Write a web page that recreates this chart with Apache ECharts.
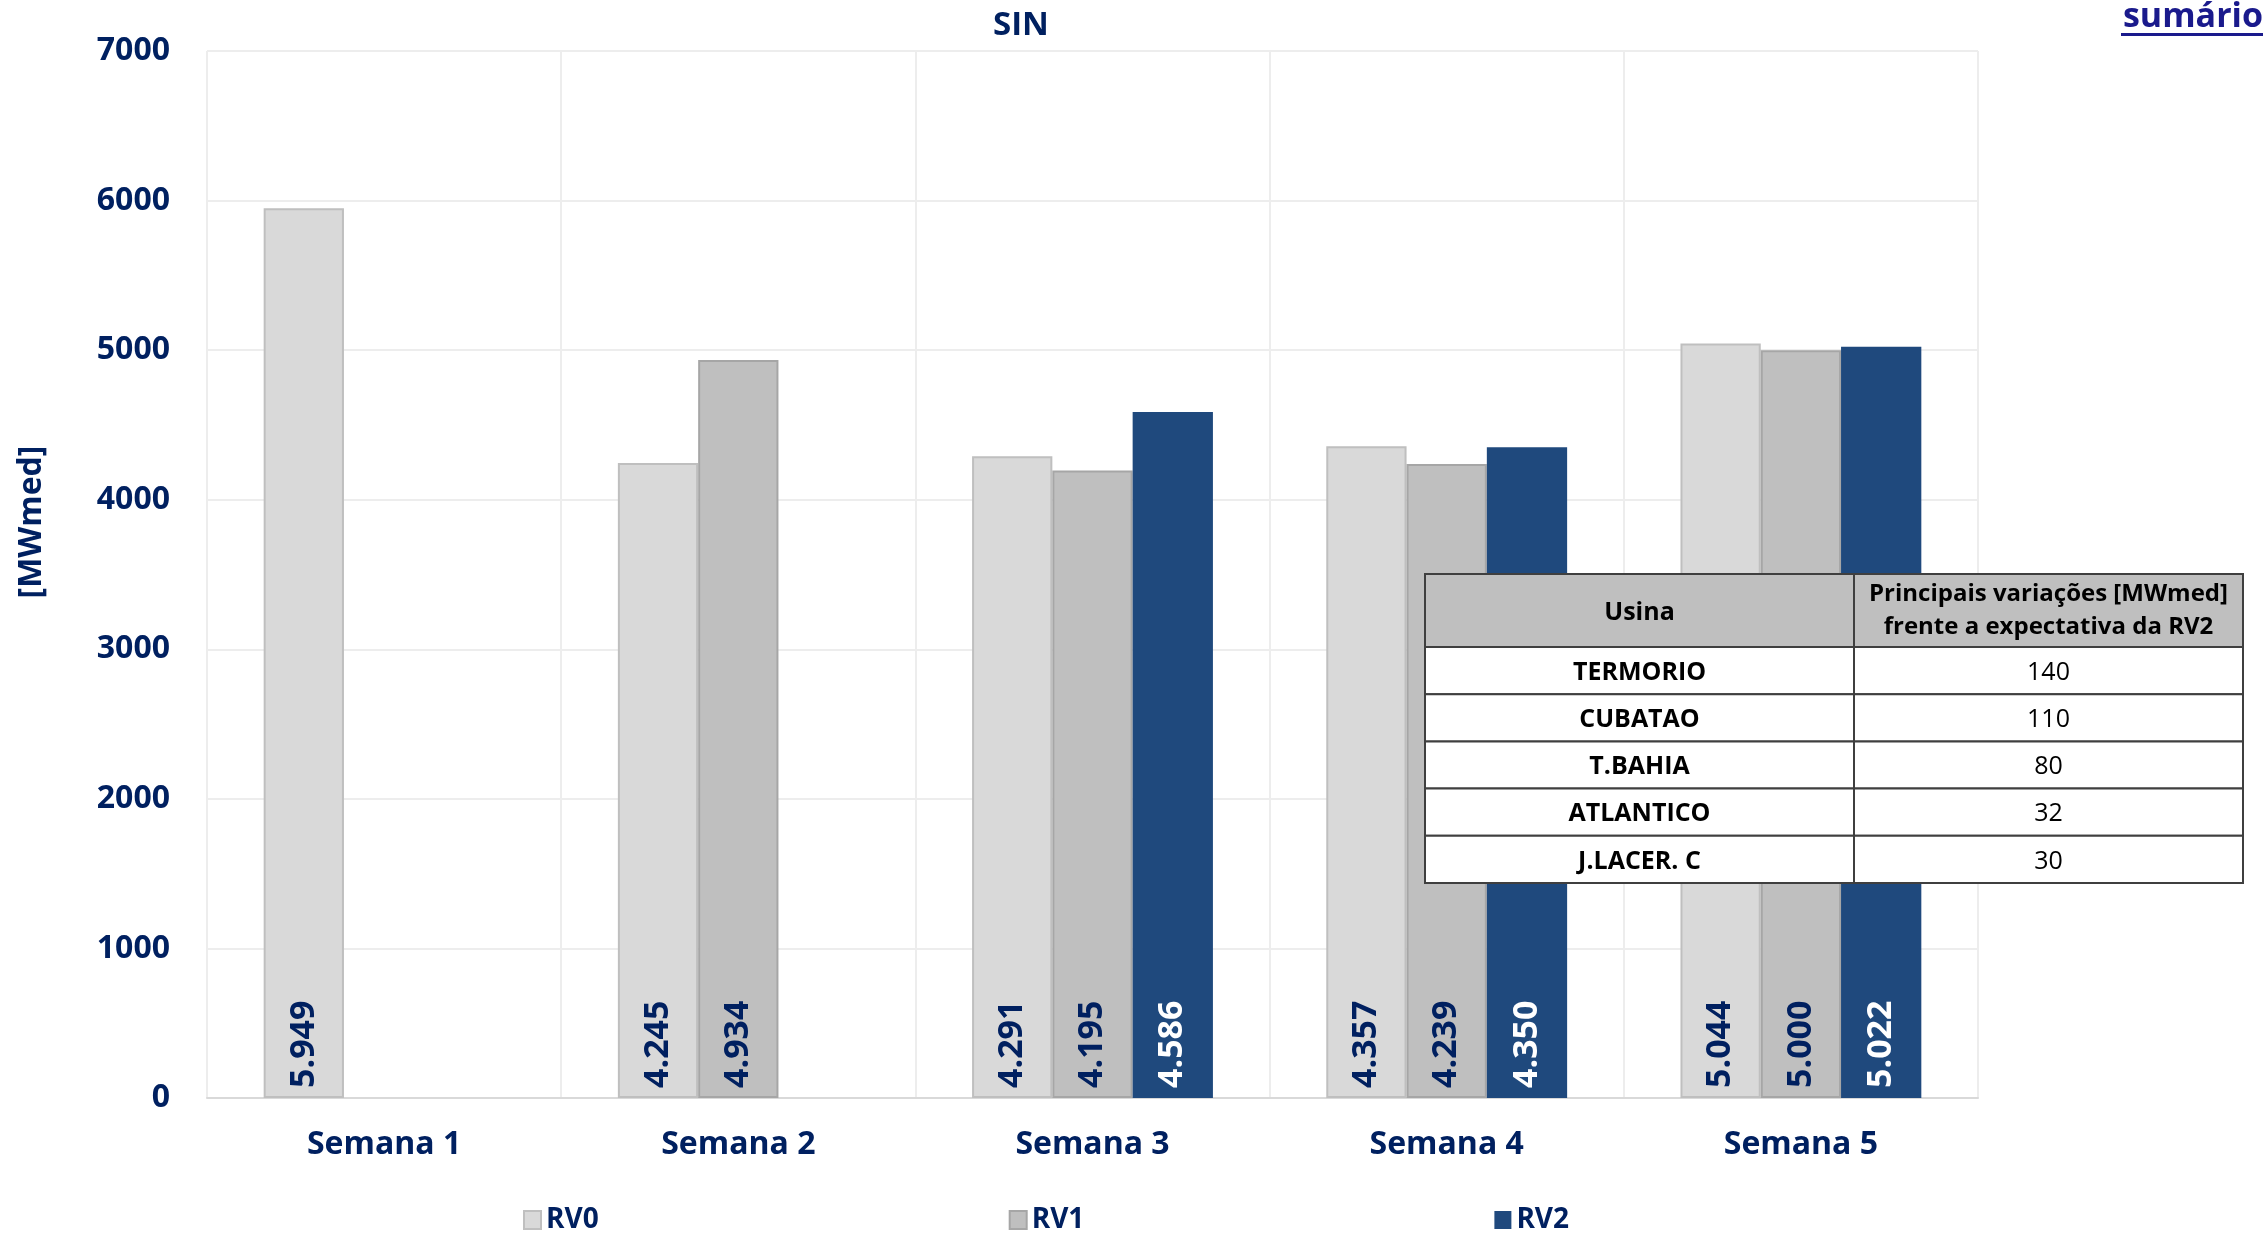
<!DOCTYPE html>
<html>
<head>
<meta charset="utf-8">
<script src="https://cdn.jsdelivr.net/npm/echarts@6/dist/echarts.min.js"></script>
<style>
html,body{margin:0;padding:0;background:#fff;}
#chart{width:2266px;height:1233px;}
</style>
</head>
<body>
<div id="chart"></div>
<script>
// ---- data ----
const categories = ['Semana 1', 'Semana 2', 'Semana 3', 'Semana 4', 'Semana 5'];
const seriesNames = ['RV0', 'RV1', 'RV2'];
const rv0 = [5949, 4245, 4291, 4357, 5044];
const rv1 = [null, 4934, 4195, 4239, 5000];
const rv2 = [null, null, 4586, 4350, 5022];
const yMin = 0, yMax = 7000, yStep = 1000;
const chartTitle = 'SIN';
const yAxisName = '[MWmed]';
const linkText = 'sumário';
const tableHeader = ['Usina', 'Principais variações [MWmed]\nfrente a expectativa da RV2'];
const usinas = ['TERMORIO', 'CUBATAO', 'T.BAHIA', 'ATLANTICO', 'J.LACER. C'];
const variacoes = [140, 110, 80, 32, 30];

// ---- styles ----
const NAVY = '#002060';
const FONT = '"Open Sans", "Noto Sans", sans-serif';
const fmt = v => {
  if (v == null) return '';
  const t = Math.floor(v / 1000), r = v % 1000;
  return t + '.' + String(r).padStart(3, '0');
};

// ---- table graphic ----
const T = { x: 1425, y: 574, w1: 429, w2: 389, hh: 73 };
T.rh = (883 - (T.y + T.hh)) / usinas.length;
const tbl = [];
const border = '#3F3F3F';
tbl.push({ type: 'rect', z: 100, shape: { x: T.x, y: T.y, width: T.w1, height: T.hh }, style: { fill: '#BFBFBF', stroke: border, lineWidth: 2 } });
tbl.push({ type: 'rect', z: 100, shape: { x: T.x + T.w1, y: T.y, width: T.w2, height: T.hh }, style: { fill: '#BFBFBF', stroke: border, lineWidth: 2 } });
tbl.push({ type: 'text', z: 101, x: T.x + T.w1 / 2, y: T.y + T.hh / 2 + 2, style: { text: tableHeader[0], font: 'bold 25px ' + FONT, fill: '#000', align: 'center', verticalAlign: 'middle' } });
tbl.push({ type: 'text', z: 101, x: T.x + T.w1 + T.w2 / 2, y: T.y + T.hh / 2, style: { text: tableHeader[1], font: 'bold 24px ' + FONT, fill: '#000', align: 'center', verticalAlign: 'middle', lineHeight: 33 } });
usinas.forEach((u, i) => {
  const y0 = T.y + T.hh + i * T.rh;
  tbl.push({ type: 'rect', z: 100, shape: { x: T.x, y: y0, width: T.w1, height: T.rh }, style: { fill: '#fff', stroke: border, lineWidth: 2 } });
  tbl.push({ type: 'rect', z: 100, shape: { x: T.x + T.w1, y: y0, width: T.w2, height: T.rh }, style: { fill: '#fff', stroke: border, lineWidth: 2 } });
  tbl.push({ type: 'text', z: 101, x: T.x + T.w1 / 2, y: y0 + T.rh / 2 + 2, style: { text: u, font: 'bold 25px ' + FONT, fill: '#000', align: 'center', verticalAlign: 'middle' } });
  tbl.push({ type: 'text', z: 101, x: T.x + T.w1 + T.w2 / 2, y: y0 + T.rh / 2 + 2, style: { text: String(variacoes[i]), font: '25px ' + FONT, fill: '#000', align: 'center', verticalAlign: 'middle' } });
});

const chart = echarts.init(document.getElementById('chart'), null, { renderer: 'canvas' });

const barColors = ['#D9D9D9', '#BFBFBF', '#1F497D'];
const barBorders = ['#BFBFBF', '#A6A6A6', '#1F497D'];
const labelColors = [NAVY, NAVY, '#FFFFFF'];
const data = [rv0, rv1, rv2];

chart.setOption({
  animation: false,
  backgroundColor: '#fff',
  title: {
    text: chartTitle, left: 988, top: 4,
    textStyle: { color: NAVY, fontFamily: FONT, fontWeight: 'bold', fontSize: 33 }
  },
  grid: { left: 207, right: 288, top: 51, bottom: 135, containLabel: false },
  legend: {
    data: seriesNames, left: 518, top: 1201, itemGap: 410,
    itemWidth: 17, itemHeight: 18, icon: 'rect',
    textStyle: { color: NAVY, fontFamily: FONT, fontWeight: 'bold', fontSize: 28 }
  },
  xAxis: {
    type: 'category', data: categories,
    axisLine: { lineStyle: { color: '#D9D9D9', width: 2 } },
    axisTick: { show: false },
    splitLine: { show: true, lineStyle: { color: '#EDEDED', width: 2 } },
    axisLabel: { color: NAVY, fontFamily: FONT, fontWeight: 'bold', fontSize: 32, margin: 31 }
  },
  yAxis: {
    type: 'value', min: yMin, max: yMax, interval: yStep,
    axisLine: { show: false }, axisTick: { show: false },
    splitLine: { lineStyle: { color: '#EDEDED', width: 2 } },
    axisLabel: { color: NAVY, fontFamily: FONT, fontWeight: 'bold', fontSize: 32, margin: 37, formatter: v => String(v) }
  },
  graphic: [
    { type: 'text', x: 32, y: 522, rotation: Math.PI / 2, style: { text: yAxisName, font: 'bold 32px ' + FONT, fill: NAVY, align: 'center', verticalAlign: 'middle' } },
    { type: 'text', x: 2263, y: 17, style: { text: linkText, font: 'bold 34px ' + FONT, fill: '#1A1A8C', align: 'right', verticalAlign: 'middle' } },
    { type: 'rect', shape: { x: 2121, y: 33, width: 142, height: 3 }, style: { fill: '#1A1A8C' } },
    ...tbl
  ],
  series: seriesNames.map((n, i) => ({
    name: n, type: 'bar', data: data[i],
    barGap: '0%', barCategoryGap: '32%',
    itemStyle: { color: barColors[i], borderColor: barBorders[i], borderWidth: i < 2 ? 2 : 0 },
    label: {
      show: true, position: 'insideBottom', rotate: 90, align: 'left', verticalAlign: 'middle',
      distance: 10, color: labelColors[i], fontFamily: FONT, fontWeight: 'bold', fontSize: 34,
      formatter: p => fmt(p.value)
    }
  }))
});
</script>
</body>
</html>
